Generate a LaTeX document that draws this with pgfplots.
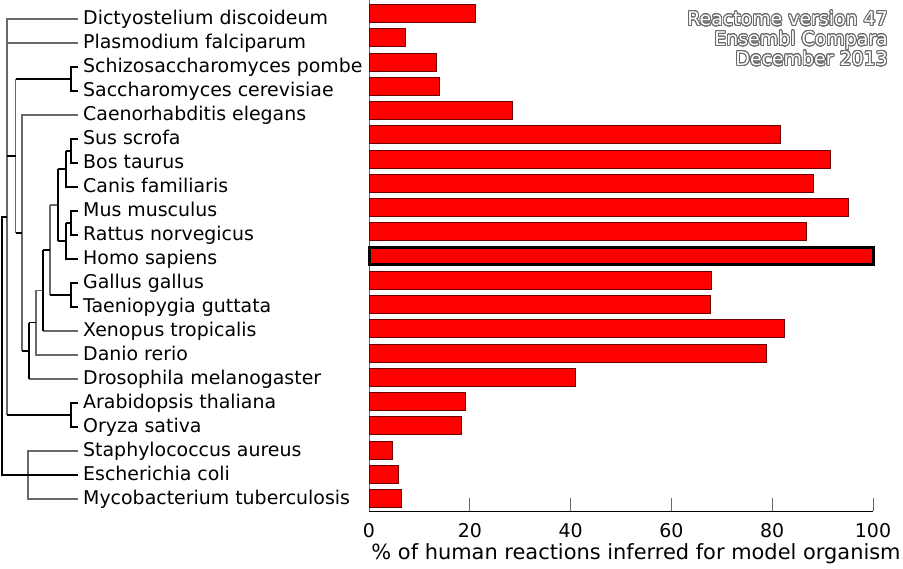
\documentclass[border=0pt]{standalone}
\usepackage{fontspec}
\setmainfont{DejaVu Sans}
\usepackage{pgfplots}
\pgfplotsset{compat=1.18}
\usepackage{pgfplotstable}
\usepackage{contour}
\contourlength{0.9pt}
\contournumber{24}
\definecolor{barred}{RGB}{255,0,0}
\definecolor{baredge}{RGB}{110,0,0}
\definecolor{treegray}{RGB}{105,105,105}
\newcommand{\lab}{\fontsize{19}{22}\selectfont}

\pgfplotstableread{
row val
1 21.1
2 7.3
3 13.4
4 14.0
5 28.5
6 81.6
7 91.5
8 88.2
9 95.0
10 86.7
12 68.0
13 67.7
14 82.3
15 78.9
16 41.0
17 19.1
18 18.4
19 4.6
20 5.85
21 6.5
}\bars

\pgfplotstableread{
x y
78 -19
7 -19
7 -415
nan nan
7 -43
78 -43
nan nan
15.5 -79
15.5 -233
nan nan
78 -115
22 -115
22 -351
nan nan
29 -379
78 -379
nan nan
36 -290.5
36 -355
78 -355
nan nan
43 -331
78 -331
nan nan
36 -290.5
43 -290.5
nan nan
50 -205
50 -295
nan nan
50 -205
58 -205
nan nan
78 -451
28 -451
28 -499
78 -499
}\treegrey

\pgfplotstableread{
x y
15.5 -79
71 -79
nan nan
78 -67
71 -67
71 -91
78 -91
nan nan
7 -156
15.5 -156
nan nan
15.5 -233
22 -233
nan nan
22 -351
29 -351
nan nan
29 -322.75
29 -379
nan nan
29 -322.75
36 -322.75
nan nan
43 -250
43 -331
nan nan
43 -250
50 -250
nan nan
50 -295
71 -295
nan nan
78 -283
71 -283
71 -307
78 -307
nan nan
58 -169
58 -241
nan nan
58 -169
66 -169
nan nan
78 -139
71 -139
71 -163
78 -163
nan nan
66 -151
71 -151
nan nan
66 -151
66 -187
78 -187
nan nan
78 -211
71 -211
71 -235
78 -235
nan nan
66 -223
71 -223
nan nan
66 -223
66 -259
78 -259
nan nan
58 -241
66 -241
nan nan
7 -415
71 -415
nan nan
78 -403
71 -403
71 -427
78 -427
nan nan
7 -217
2 -217
2 -475
78 -475
}\treeblack

\begin{document}
\begin{tikzpicture}
\path[use as bounding box] (0,0) rectangle (903bp,569bp);
\begin{axis}[at={(0,0)}, anchor=south west, width=903bp, height=569bp,
  scale only axis, xmin=0, xmax=903, ymin=-569, ymax=0, hide axis,
  clip=false, unbounded coords=jump]
\addplot[treegray, line width=1.2bp] table[x=x,y=y] {\treegrey};
\addplot[black, line width=1.2bp] table[x=x,y=y] {\treeblack};
\begin{scope}[every node/.style={anchor=mid west, inner sep=0pt, font=\lab, yshift=-3bp}]
\node at (axis cs:83,-19) {Dictyostelium discoideum};
\node at (axis cs:83,-43) {Plasmodium falciparum};
\node at (axis cs:83,-67) {Schizosaccharomyces pombe};
\node at (axis cs:83,-91) {Saccharomyces cerevisiae};
\node at (axis cs:83,-115) {Caenorhabditis elegans};
\node at (axis cs:83,-139) {Sus scrofa};
\node at (axis cs:83,-163) {Bos taurus};
\node at (axis cs:83,-187) {Canis familiaris};
\node at (axis cs:83,-211) {Mus musculus};
\node at (axis cs:83,-235) {Rattus norvegicus};
\node at (axis cs:83,-259) {Homo sapiens};
\node at (axis cs:83,-283) {Gallus gallus};
\node at (axis cs:83,-307) {Taeniopygia guttata};
\node at (axis cs:83,-331) {Xenopus tropicalis};
\node at (axis cs:83,-355) {Danio rerio};
\node at (axis cs:83,-379) {Drosophila melanogaster};
\node at (axis cs:83,-403) {Arabidopsis thaliana};
\node at (axis cs:83,-427) {Oryza sativa};
\node at (axis cs:83,-451) {Staphylococcus aureus};
\node at (axis cs:83,-475) {Escherichia coli};
\node at (axis cs:83,-499) {Mycobacterium tuberculosis};
\end{scope}
\node[anchor=north east, align=right, inner sep=0pt, font=\fontsize{19}{20}\selectfont]
  at (axis cs:888,-11)
  {\contour{treegray}{\textcolor{white}{Reactome version 47}}\\
   \contour{treegray}{\textcolor{white}{Ensembl Compara}}\\
   \contour{treegray}{\textcolor{white}{December 2013}}};
\node[anchor=center, inner sep=0pt, font=\fontsize{21}{24}\selectfont] at (axis cs:636,-554)
  {\% of human reactions inferred for model organism};
\end{axis}
\begin{axis}[at={(369bp,58bp)}, anchor=south west, width=504bp, height=511bp,
  scale only axis, xmin=0, xmax=100, ymin=0.485, ymax=21.557,
  axis x line=bottom, axis y line=left, axis line style={-},
  x axis line style={black, line width=1bp},
  y axis line style={treegray, line width=1bp},
  ytick=\empty, xtick={0,20,...,100}, tick align=inside,
  major tick length=13bp, xtick style={treegray, line width=1bp},
  xticklabel style={font=\lab, yshift=-9bp},
  /pgf/number format/assume math mode=true, clip=false]
\addplot[xbar, bar width=18bp, bar shift=0pt, fill=barred, draw=baredge, line width=0.6bp]
  table[x=val, y expr=22-\thisrow{row}] {\bars};
\addplot[xbar, bar width=17bp, bar shift=0pt, fill=barred, draw=black, line width=3bp]
  coordinates {(100,11)};
\end{axis}
\end{tikzpicture}
\end{document}
